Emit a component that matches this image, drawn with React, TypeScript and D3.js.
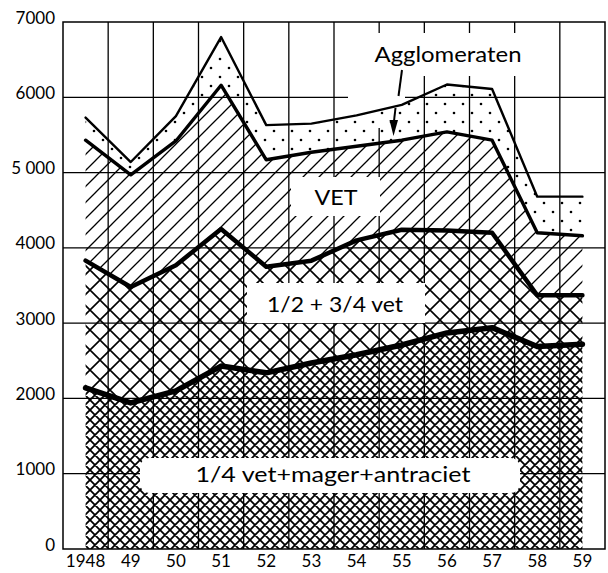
import React from 'react';
import * as d3 from 'd3';

const years = [1948, 1949, 1950, 1951, 1952, 1953, 1954, 1955, 1956, 1957, 1958, 1959];
const yearLabels = ['1948', '49', '50', '51', '52', '53', '54', '55', '56', '57', '58', '59'];
const yTicks = [0, 1000, 2000, 3000, 4000, 5000, 6000, 7000];
const yTickLabels = ['0', '1000', '2000', '3000', '4000', '5 000', '6000', '7000'];

// cumulative tops of the stacked bands
const quarterVet = [2140, 1940, 2100, 2430, 2340, 2470, 2580, 2710, 2870, 2940, 2690, 2720];
const halfVet = [3830, 3480, 3770, 4250, 3750, 3830, 4100, 4240, 4230, 4200, 3370, 3370];
const vet = [5430, 4970, 5420, 6160, 5170, 5270, 5350, 5430, 5540, 5430, 4200, 4160];
const agglomeraten = [5730, 5140, 5750, 6800, 5630, 5650, 5760, 5900, 6170, 6110, 4680, 4680];

const W = 608;
const H = 573;
const FONT = 'Lato, "Open Sans", sans-serif';

export default function App() {
  const band = d3.scaleBand<number>().domain(years).range([63, 605]).padding(0);
  const xc = (yr: number) => (band(yr) as number) + band.bandwidth() / 2;
  const y = d3.scaleLinear().domain([0, 7000]).range([549, 22]);
  const left = 63, right = 605, top = y(7000), bottom = y(0);

  const idx = years.map((_, i) => i);
  const area = (lo: number[] | null, hi: number[]) =>
    d3.area<number>()
      .x((i) => xc(years[i]))
      .y0((i) => (lo ? y(lo[i]) : y(0)))
      .y1((i) => y(hi[i]))(idx) as string;
  const line = (vals: number[]) =>
    d3.line<number>().x((i) => xc(years[i])).y((i) => y(vals[i]))(idx) as string;

  const vGrid = years.slice(1).map((yr) => band(yr) as number);

  return (
    <svg width={W} height={H} style={{ position: 'absolute', left: 0, top: 0, display: 'block', background: '#fff' }}>
      <defs>
        <pattern id="diag" width={16} height={16} patternUnits="userSpaceOnUse">
          <path d="M0,16 L16,0 M-4,4 L4,-4 M12,20 L20,12" stroke="#000" strokeWidth={1.3} />
        </pattern>
        <pattern id="cross" width={20} height={20} patternUnits="userSpaceOnUse">
          <path d="M0,20 L20,0 M-5,5 L5,-5 M15,25 L25,15 M0,0 L20,20 M-5,15 L5,25 M15,-5 L25,5" stroke="#000" strokeWidth={1.6} />
        </pattern>
        <pattern id="dense" width={10} height={10} patternUnits="userSpaceOnUse">
          <path d="M0,10 L10,0 M-3,3 L3,-3 M7,13 L13,7 M0,0 L10,10 M-3,7 L3,13 M7,-3 L13,3" stroke="#000" strokeWidth={1.8} />
        </pattern>
        <pattern id="dots" width={18} height={18} patternUnits="userSpaceOnUse">
          <circle cx={4} cy={5} r={1.3} fill="#000" />
          <circle cx={13} cy={14} r={1.3} fill="#000" />
        </pattern>
      </defs>
      <rect x={0} y={0} width={W} height={H} fill="#fff" />

      {/* grid */}
      <g stroke="#000" strokeWidth={1.3}>
        {yTicks.slice(1, -1).map((t) => (
          <line key={'h' + t} x1={left} x2={right} y1={y(t)} y2={y(t)} />
        ))}
        {vGrid.map((gx, i) => (
          <line key={'v' + i} x1={gx} x2={gx} y1={top} y2={bottom} />
        ))}
      </g>
      {/* white space around the Agglomeraten label and arrow */}
      <rect x={348} y={33} width={174} height={43} fill="#fff" />
      <rect x={348} y={76} width={57} height={52} fill="#fff" />

      {/* stacked bands */}
      <path d={area(null, quarterVet)} fill="url(#dense)" />
      <path d={area(quarterVet, halfVet)} fill="url(#cross)" />
      <path d={area(halfVet, vet)} fill="url(#diag)" />
      <path d={area(vet, agglomeraten)} fill="url(#dots)" />

      {/* boundary lines */}
      <g fill="none" stroke="#000" strokeLinejoin="round" strokeLinecap="round">
        <path d={line(agglomeraten)} strokeWidth={2.4} />
        <path d={line(vet)} strokeWidth={3.4} />
        <path d={line(halfVet)} strokeWidth={4.5} />
        <path d={line(quarterVet)} strokeWidth={5.5} />
      </g>

      {/* frame */}
      <rect x={left} y={top} width={right - left} height={bottom - top} fill="none" stroke="#000" strokeWidth={1.5} />

      {/* label boxes */}
      <rect x={291} y={177} width={89} height={39} fill="#fff" />
      <rect x={247} y={283} width={178} height={40} fill="#fff" />
      <rect x={140} y={458} width={380} height={35} rx={9} fill="#fff" />

      <g fontFamily={FONT} fill="#000" fontSize={21}>
        <text x={448} y={62} textAnchor="middle" textLength={147} lengthAdjust="spacingAndGlyphs">Agglomeraten</text>
        <text x={336} y={205} textAnchor="middle" textLength={43} lengthAdjust="spacingAndGlyphs">VET</text>
        <text x={335} y={312} textAnchor="middle" textLength={136} lengthAdjust="spacingAndGlyphs" xmlSpace="preserve">1/2 + 3/4 vet</text>
        <text x={333} y={482} textAnchor="middle" textLength={275} lengthAdjust="spacingAndGlyphs">1/4 vet+mager+antraciet</text>
      </g>

      {/* arrow */}
      <g stroke="#000" strokeWidth={2} fill="none">
        <line x1={402} y1={70} x2={398.5} y2={96} />
        <line x1={395.5} y1={108} x2={394} y2={121} />
      </g>
      <path d="M389.5,120 L398,120 L393.5,136 Z" fill="#000" />

      {/* axis labels */}
      <g fontFamily={FONT} fill="#000" fontSize={17} textAnchor="end">
        {yTicks.map((t, i) => (
          <text key={'yl' + t} x={55} y={y(t) + 1.5} xmlSpace="preserve">{yTickLabels[i]}</text>
        ))}
      </g>
      <g fontFamily={FONT} fill="#000" fontSize={17} textAnchor="middle">
        {years.map((yr, i) => (
          <text key={'xl' + yr} x={xc(yr)} y={567}>{yearLabels[i]}</text>
        ))}
      </g>
    </svg>
  );
}
